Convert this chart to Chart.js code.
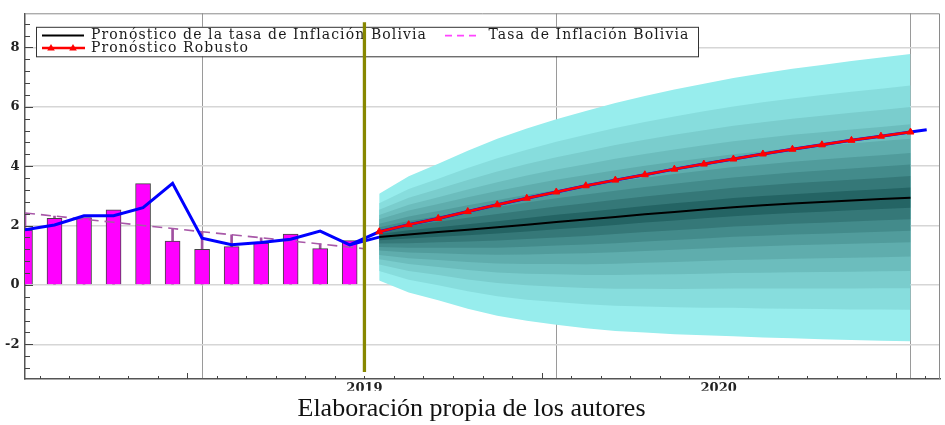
<!DOCTYPE html>
<html>
<head>
<meta charset="utf-8">
<script src="https://cdn.jsdelivr.net/npm/chart.js@4.4.1/dist/chart.umd.min.js"></script>
<style>
  html, body { margin: 0; padding: 0; background: #ffffff; }
  #wrap { width: 945px; height: 425px; }
</style>
</head>
<body>
<div id="wrap"><canvas id="chart" width="945" height="425"></canvas></div>
<script>
// Month index: 0 = first observed month, 12 = first forecast month
const observedMonths = [0, 1, 2, 3, 4, 5, 6, 7, 8, 9, 10, 11];
const inflationBars = [1.85, 2.24, 2.27, 2.53, 3.41, 1.48, 1.20, 1.29, 1.41, 1.71, 1.22, 1.49];
const fittedInflation = [1.86, 2.02, 2.33, 2.33, 2.60, 3.42, 1.57, 1.35, 1.43, 1.54, 1.81, 1.35];
const trendRate = [2.42, 2.32, 2.21, 2.11, 2.00, 1.90, 1.79, 1.69, 1.59, 1.48, 1.38, 1.27];
const trendEnd = { month: 11.5, value: 1.22 };

const forecastMonths = [12, 13, 14, 15, 16, 17, 18, 19, 20, 21, 22, 23, 24, 25, 26, 27, 28, 29, 30];
const centralForecast = [1.61, 1.70, 1.78, 1.86, 1.94, 2.03, 2.12, 2.20, 2.29, 2.38, 2.46, 2.54, 2.62, 2.68, 2.74, 2.79, 2.84, 2.89, 2.94];
const robustForecast = [1.79, 2.03, 2.24, 2.47, 2.70, 2.92, 3.13, 3.34, 3.53, 3.71, 3.90, 4.07, 4.24, 4.41, 4.57, 4.72, 4.87, 5.01, 5.15];
const robustTail = { month: 30.55, value: 5.23 };
// half-width of the widest (90%) band around the central forecast
const fanSpread = [1.46, 1.96, 2.30, 2.66, 2.98, 3.24, 3.46, 3.66, 3.84, 3.98, 4.12, 4.24, 4.35, 4.45, 4.54, 4.62, 4.70, 4.77, 4.84];
// relative width of each nested band, widest first (90% ... 10%)
const bandShares = [1.00, 0.78, 0.63, 0.51, 0.41, 0.31, 0.23, 0.15, 0.07];

const yTickValues = [-2, 0, 2, 4, 6, 8];
const xTickLabels = ['2019', '2020'];
const xLabelMonths = [11.5, 23.5];
const xGridMonths = [6, 18, 30];
const marker2019 = { month: 11.5, from: -2.93, to: 8.85 };

const bandColors = ['#97eded', '#87dddd', '#7acdcd', '#6cbdbd', '#5fadad', '#519c9c', '#438b8b', '#357878', '#246464'];

const LABEL_CENTRAL = 'Pronóstico de la tasa de Inflación Bolivia';
const LABEL_RATE = 'Tasa de Inflación Bolivia';
const LABEL_ROBUST = 'Pronóstico Robusto';

const pts = (xs, ys) => xs.map((x, i) => ({ x: x, y: ys[i] }));

// fan chart: one filled pair (upper, lower) per nested band
const fanDatasets = [];
bandShares.forEach((share, k) => {
  const upper = forecastMonths.map((m, i) => ({ x: m, y: centralForecast[i] + share * fanSpread[i] }));
  const lower = forecastMonths.map((m, i) => ({ x: m, y: centralForecast[i] - share * fanSpread[i] }));
  const order = 90 - k;
  fanDatasets.push({
    type: 'line', label: 'band' + k, data: upper, order: order,
    borderWidth: 0, pointRadius: 0, fill: '+1', backgroundColor: bandColors[k], borderColor: 'rgba(0,0,0,0)'
  });
  fanDatasets.push({
    type: 'line', label: 'band' + k + 'low', data: lower, order: order,
    borderWidth: 0, pointRadius: 0, fill: false, borderColor: 'rgba(0,0,0,0)'
  });
});

const blueSeries = pts(observedMonths, fittedInflation)
  .concat(pts(forecastMonths, robustForecast))
  .concat([{ x: robustTail.month, y: robustTail.value }]);

const datasets = fanDatasets.concat([
  { // stems from the trend line down to the axis
    type: 'bar', label: 'stems', data: pts(observedMonths, trendRate), order: 30,
    backgroundColor: '#a050a0', borderWidth: 0, barThickness: 2, grouped: false
  },
  {
    type: 'bar', label: 'Inflación observada', data: pts(observedMonths, inflationBars), order: 29,
    backgroundColor: '#ff00ff', borderColor: '#444444', borderWidth: 1, barThickness: 15, grouped: false
  },
  {
    type: 'line', label: LABEL_RATE, order: 28,
    data: pts(observedMonths, trendRate).concat([{ x: trendEnd.month, y: trendEnd.value }]),
    borderColor: '#a858a8', borderWidth: 1.6, borderDash: [10, 6], pointRadius: 0, fill: false
  },
  {
    type: 'line', label: 'enlace', order: 16,
    data: [{ x: observedMonths[11], y: fittedInflation[11] }, { x: forecastMonths[0], y: centralForecast[0] }],
    borderColor: '#0000ff', borderWidth: 3, pointRadius: 0, fill: false
  },
  {
    type: 'line', label: 'ajuste', order: 15, data: blueSeries,
    borderColor: '#0000ff', borderWidth: 3, pointRadius: 0, fill: false
  },
  {
    type: 'line', label: LABEL_CENTRAL, order: 12, data: pts(forecastMonths, centralForecast),
    borderColor: '#000000', borderWidth: 2, pointRadius: 0, fill: false
  },
  {
    type: 'line', label: LABEL_ROBUST, order: 10, data: pts(forecastMonths, robustForecast),
    borderColor: '#ff0000', borderWidth: 2.5, pointRadius: 4, pointStyle: 'triangle',
    pointBackgroundColor: '#ff0000', pointBorderColor: '#ff0000', pointBorderWidth: 1, fill: false
  },
  {
    type: 'line', label: '2019', order: 1, isMarker: true,
    data: [{ x: marker2019.month, y: marker2019.to }, { x: marker2019.month, y: marker2019.from }],
    borderColor: '#878700', borderWidth: 3.3, pointRadius: 0, fill: false
  }
]);

function triangle(ctx, cx, cy, r) {
  ctx.beginPath();
  ctx.moveTo(cx, cy - r);
  ctx.lineTo(cx + r * 0.95, cy + r * 0.6);
  ctx.lineTo(cx - r * 0.95, cy + r * 0.6);
  ctx.closePath();
  ctx.fill();
}

// legend box drawn inside the plot, just beneath the 2019 marker line
function drawLegend(chart) {
  const ctx = chart.ctx;
  const a = chart.chartArea;
  const L = a.left + 11, T = a.top + 13.5, W = 662, H = 29.5;
  const r1 = T + 8.8, r2 = T + 21.3;
  ctx.save();
  ctx.fillStyle = '#ffffff';
  ctx.fillRect(L, T, W, H);
  ctx.strokeStyle = '#333333';
  ctx.lineWidth = 1;
  ctx.strokeRect(L + 0.5, T + 0.5, W, H);

  ctx.lineWidth = 2;
  ctx.strokeStyle = '#000000';
  ctx.beginPath(); ctx.moveTo(L + 6, r1); ctx.lineTo(L + 48, r1); ctx.stroke();

  ctx.lineWidth = 2.5;
  ctx.strokeStyle = '#ff0000';
  ctx.beginPath(); ctx.moveTo(L + 6, r2); ctx.lineTo(L + 49, r2); ctx.stroke();
  ctx.fillStyle = '#ff0000';
  triangle(ctx, L + 15, r2, 4);
  triangle(ctx, L + 37, r2, 4);

  ctx.lineWidth = 1.6;
  ctx.strokeStyle = '#ff44ff';
  ctx.setLineDash([7, 5]);
  ctx.beginPath(); ctx.moveTo(L + 409, r1); ctx.lineTo(L + 445, r1); ctx.stroke();
  ctx.setLineDash([]);

  ctx.fillStyle = '#1a1a1a';
  ctx.font = '14px "DejaVu Serif"';
  ctx.textBaseline = 'middle';
  ctx.textAlign = 'left';
  if ('letterSpacing' in ctx) ctx.letterSpacing = '1.1px';
  ctx.fillText(LABEL_CENTRAL, L + 55, r1);
  ctx.fillText(LABEL_RATE, L + 452.5, r1);
  ctx.fillText(LABEL_ROBUST, L + 55, r2);
  ctx.restore();
}

const legendAndFrame = {
  id: 'legendAndFrame',
  beforeDatasetDraw(chart, args) {
    const ds = chart.data.datasets[args.index];
    if (ds && ds.isMarker) drawLegend(chart);
  },
  afterDraw(chart) {
    const ctx = chart.ctx;
    const a = chart.chartArea;
    const x = chart.scales.x, y = chart.scales.y;
    ctx.save();
    // top and right sides of the frame
    ctx.strokeStyle = '#8a8a8a';
    ctx.lineWidth = 1;
    ctx.beginPath();
    ctx.moveTo(a.left, a.top + 0.5);
    ctx.lineTo(a.right - 0.5, a.top + 0.5);
    ctx.lineTo(a.right - 0.5, a.bottom);
    ctx.stroke();
    // inward tick marks: y every 0.4, x at month boundaries
    ctx.strokeStyle = '#444444';
    ctx.beginPath();
    for (let k = -8; k <= 23; k++) {
      const v = k * 0.4;
      if (v < y.min || v > y.max) continue;
      const py = Math.round(y.getPixelForValue(v)) + 0.5;
      const len = (k % 5 === 0) ? 8 : 5;
      ctx.moveTo(a.left, py);
      ctx.lineTo(a.left + len, py);
    }
    for (let m = 0.5; m < x.max; m += 1) {
      const px = Math.round(x.getPixelForValue(m)) + 0.5;
      const len = ((m - 5.5) % 12 === 0) ? 6 : 3;
      ctx.moveTo(px, a.bottom);
      ctx.lineTo(px, a.bottom - len);
    }
    ctx.stroke();
    ctx.restore();
  }
};

new Chart(document.getElementById('chart'), {
  type: 'line',
  data: { datasets: datasets },
  plugins: [legendAndFrame],
  options: {
    responsive: false,
    animation: false,
    events: [],
    layout: { padding: { left: 0, right: 2, top: 11, bottom: 0 } },
    plugins: {
      legend: { display: false },
      tooltip: { enabled: false },
      title: {
        display: true,
        position: 'bottom',
        text: 'Elaboración propia de los autores',
        color: '#111111',
        font: { family: '"Liberation Serif"', size: 26, weight: 'normal', lineHeight: 1.2 },
        padding: { top: 3, bottom: 0 }
      },
      filler: { propagate: false }
    },
    scales: {
      x: {
        type: 'linear',
        min: 0,
        max: 31,
        offset: false,
        afterBuildTicks(scale) {
          scale.ticks = xGridMonths.concat(xLabelMonths).sort((p, q) => p - q).map(v => ({ value: v }));
        },
        afterFit(scale) { scale.height = 11.8; },
        ticks: {
          autoSkip: false,
          maxRotation: 0,
          padding: 2,
          color: '#222222',
          font: { family: '"DejaVu Serif"', size: 13, weight: 'bold' },
          callback(value) {
            const i = xLabelMonths.indexOf(value);
            return i >= 0 ? xTickLabels[i] : '';
          }
        },
        grid: {
          drawTicks: false,
          offset: false,
          lineWidth: 1,
          color(ctx) {
            return (ctx.tick && xGridMonths.indexOf(ctx.tick.value) >= 0) ? '#9a9a9a' : 'rgba(0,0,0,0)';
          }
        },
        border: { display: true, color: '#555555', width: 1.5 }
      },
      y: {
        type: 'linear',
        min: -3.17,
        max: 9.15,
        afterBuildTicks(scale) {
          scale.ticks = yTickValues.map(v => ({ value: v }));
        },
        afterFit(scale) { scale.width = 25; },
        ticks: {
          padding: 5.5,
          color: '#222222',
          font: { family: '"DejaVu Serif"', size: 13, weight: 'bold' }
        },
        grid: { drawTicks: false, color: '#d6d6d6', lineWidth: 1.5 },
        border: { display: true, color: '#555555', width: 1.5 }
      }
    }
  }
});
</script>
</body>
</html>
